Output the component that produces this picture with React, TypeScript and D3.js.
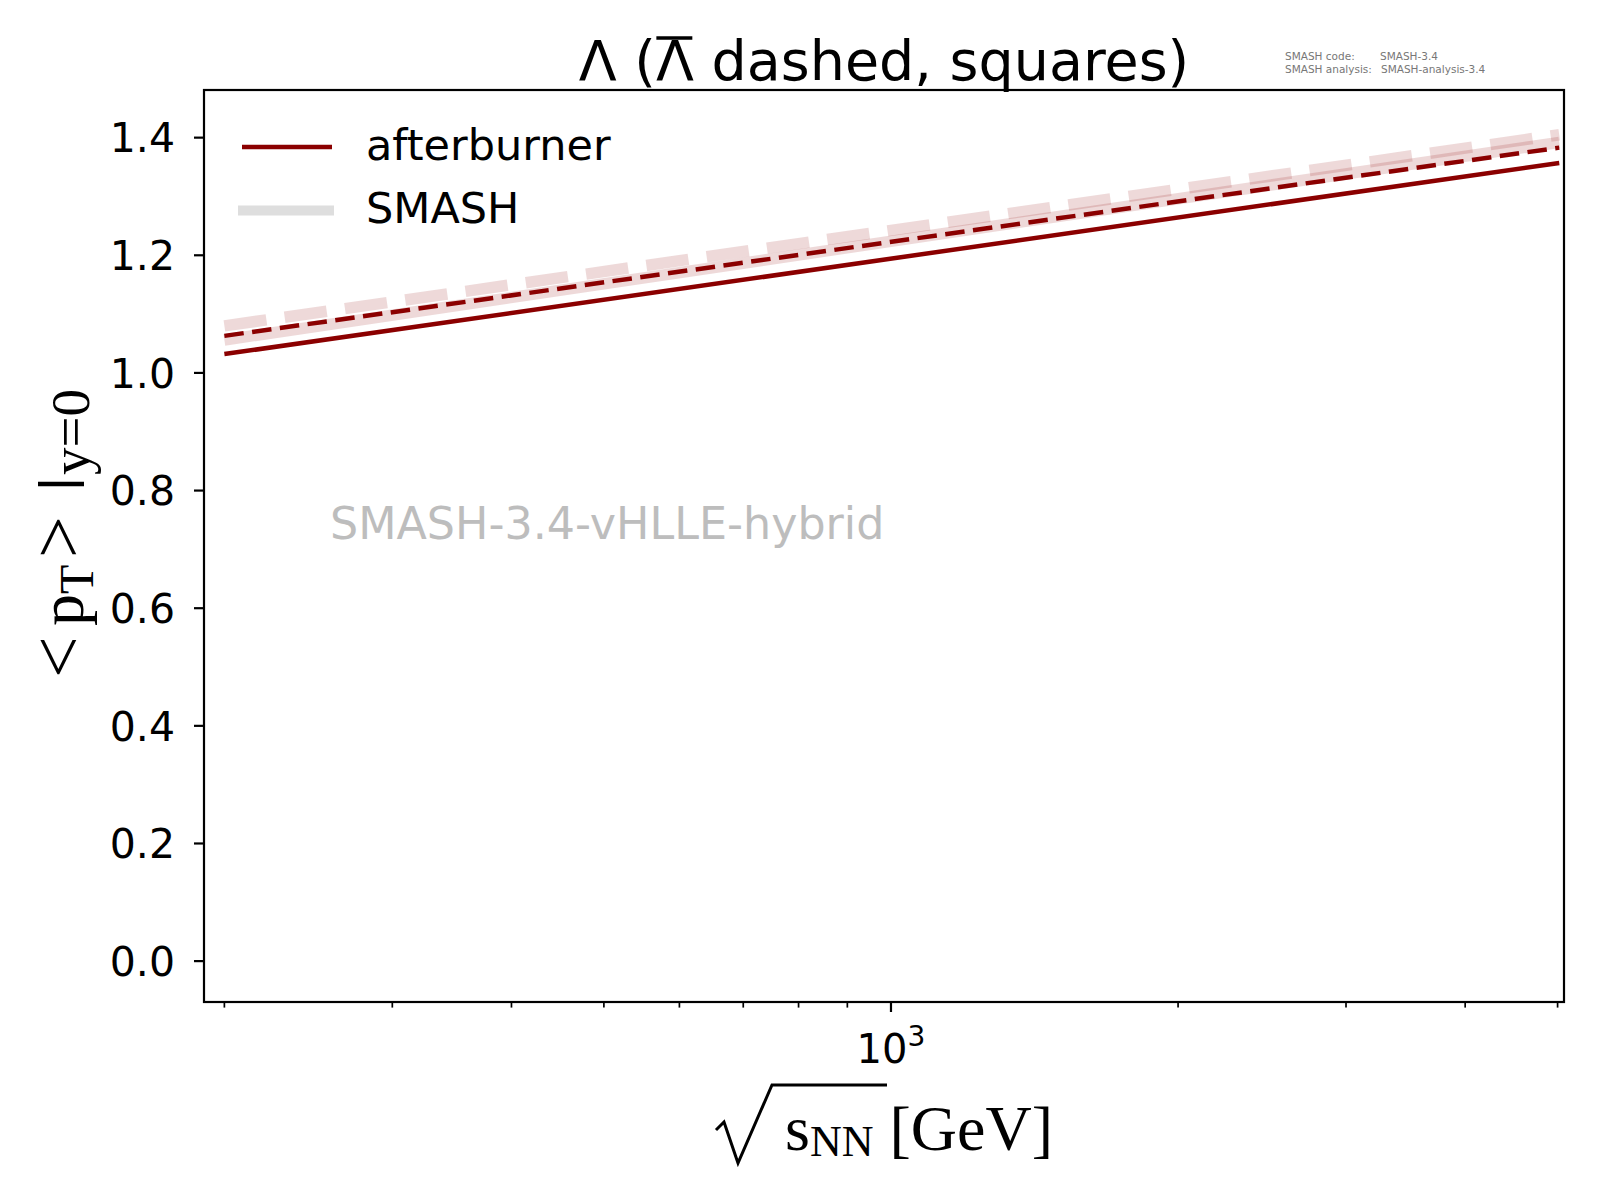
import * as d3 from "d3";

// sqrt(s_NN) in GeV and <pT> at y=0 in GeV
const energies = [200, 5020];
const lambdaAfterburner = [1.032, 1.357];
const antiLambdaAfterburner = [1.063, 1.383];
const lambdaSmash = [1.056, 1.392];
const antiLambdaSmash = [1.08, 1.405];

const yTicks = [0, 0.2, 0.4, 0.6, 0.8, 1.0, 1.2, 1.4];
const xMajorTicks = [1000];
const xMinorTicks = [200, 300, 400, 500, 600, 700, 800, 900, 2000, 3000, 4000, 5000];

const W = 1600;
const H = 1200;
const margin = { top: 90, right: 36, bottom: 198, left: 204 };
const DARK = "#8b0000";
const SANS = "'DejaVu Sans', sans-serif";
const SERIF = "'Liberation Serif', 'DejaVu Serif', serif";

export default function App() {
  const left = margin.left;
  const right = W - margin.right;
  const top = margin.top;
  const bottom = H - margin.bottom;

  const x = d3.scaleLog().domain([190.4, 5078]).range([left, right]);
  const y = d3.scaleLinear().domain([-0.0695, 1.481]).range([bottom, top]);

  const line = (vals: number[]) =>
    d3.line<number>()
      .x((_, i) => x(energies[i]))
      .y(d => y(d))(vals) || "";

  // title: bar over the second Lambda (DejaVu Sans advances, in em)
  const titleSize = 55.5;
  const titleStart = (left + right) / 2 - (11.023 * titleSize) / 2;
  const barX0 = titleStart + 1.392 * titleSize;
  const barX1 = barX0 + 0.684 * titleSize;

  return (
    <div style={{ position: "absolute", left: 0, top: 0 }}>
      <svg width={W} height={H} style={{ display: "block", background: "#fff" }}>
        <defs>
          <clipPath id="plot">
            <rect x={left} y={top} width={right - left} height={bottom - top} />
          </clipPath>
        </defs>

        {/* title */}
        <text x={(left + right) / 2} y={80} textAnchor="middle" fontFamily={SANS} fontSize={titleSize}>
          Λ (Λ dashed, squares)
        </text>
        <line x1={barX0 + 1} x2={barX1 - 1} y1={38} y2={38} stroke="#000" strokeWidth={3.5} />

        {/* version info */}
        <g fontFamily={SANS} fontSize={10.5} fill="#777">
          <text x={1285} y={60}>SMASH code:</text>
          <text x={1380} y={60}>SMASH-3.4</text>
          <text x={1285} y={73}>SMASH analysis:</text>
          <text x={1381} y={73}>SMASH-analysis-3.4</text>
        </g>

        {/* watermark */}
        <text x={330} y={539} fontFamily={SANS} fontSize={44.4} fill="#bdbdbd">
          SMASH-3.4-vHLLE-hybrid
        </text>

        {/* data */}
        <g clipPath="url(#plot)" fill="none">
          <path d={line(lambdaSmash)} stroke={DARK} strokeOpacity={0.15} strokeWidth={11.5} />
          <path d={line(antiLambdaSmash)} stroke={DARK} strokeOpacity={0.15} strokeWidth={11.5}
            strokeDasharray="42.5 18.4" />
          <path d={line(lambdaAfterburner)} stroke={DARK} strokeWidth={4.5} />
          <path d={line(antiLambdaAfterburner)} stroke={DARK} strokeWidth={4.5}
            strokeDasharray="19.5 8.5" />
        </g>

        {/* legend */}
        <line x1={242} x2={332} y1={147} y2={147} stroke={DARK} strokeWidth={4.5} />
        <line x1={238} x2={334} y1={210.5} y2={210.5} stroke="#dedede" strokeWidth={10} />
        <g fontFamily={SANS} fontSize={43}>
          <text x={366} y={160}>afterburner</text>
          <text x={366} y={223}>SMASH</text>
        </g>

        {/* frame */}
        <rect x={left} y={top} width={right - left} height={bottom - top}
          fill="none" stroke="#000" strokeWidth={2.2} />

        {/* y axis */}
        {yTicks.map(t => (
          <g key={t}>
            <line x1={left - 10} x2={left} y1={y(t)} y2={y(t)} stroke="#000" strokeWidth={2.2} />
            <text x={left - 29} y={y(t)} dy="0.36em" textAnchor="end" fontFamily={SANS} fontSize={41}>
              {d3.format(".1f")(t)}
            </text>
          </g>
        ))}

        {/* x axis */}
        {xMinorTicks.map(t => (
          <line key={t} x1={x(t)} x2={x(t)} y1={bottom} y2={bottom + 5.6} stroke="#000" strokeWidth={1.7} />
        ))}
        {xMajorTicks.map(t => (
          <g key={t}>
            <line x1={x(t)} x2={x(t)} y1={bottom} y2={bottom + 10} stroke="#000" strokeWidth={2.2} />
            <text x={x(t)} y={1063} textAnchor="middle" fontFamily={SANS} fontSize={40}>
              10<tspan fontSize={28} dy={-17}>{Math.round(Math.log10(t))}</tspan>
            </text>
          </g>
        ))}

        {/* x label: sqrt(s_NN) [GeV] */}
        <g fontFamily={SERIF}>
          <path d="M716,1130 L724,1122 L738,1163 L772,1085 L887,1085" fill="none" stroke="#000" strokeWidth={3} />
          <text x={785} y={1150} fontSize={64}>
            s<tspan fontSize={44} dy={6}>NN</tspan>
            <tspan dy={-6} fontSize={64}> [GeV]</tspan>
          </text>
        </g>

        {/* y label: <pT>|y=0, rotated; x in this frame is minus the page y */}
        <g transform="rotate(-90)" fontFamily={SERIF}>
          <text x={-678} y={83} fontSize={74}>&lt;</text>
          <text x={-626} y={83} fontSize={64}>p</text>
          <text x={-594} y={93} fontSize={48}>T</text>
          <text x={-558} y={83} fontSize={74}>&gt;</text>
          <line x1={-484} x2={-484} y1={38} y2={84} stroke="#000" strokeWidth={4.5} />
          <text x={-475} y={89} fontSize={55}>y=0</text>
        </g>
      </svg>
    </div>
  );
}
